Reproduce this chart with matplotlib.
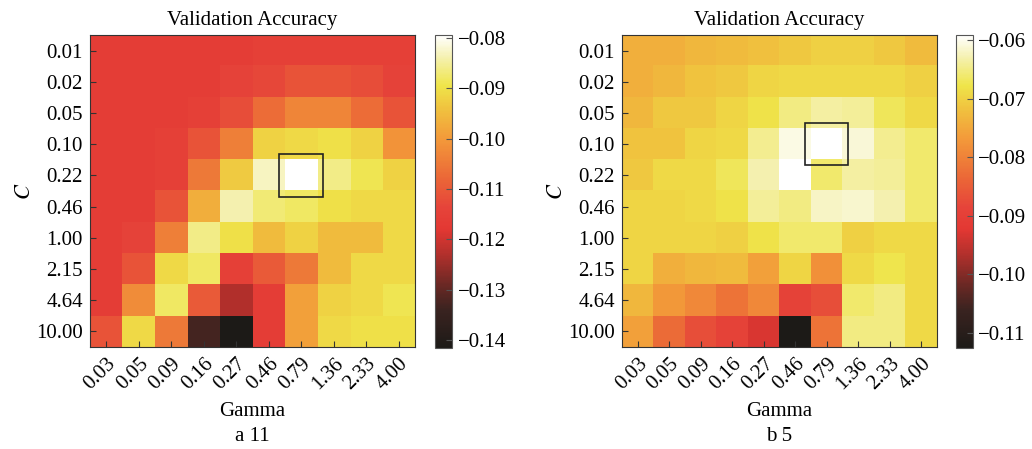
import numpy as np
import matplotlib
matplotlib.use("Agg")
from matplotlib import pyplot as plt
from matplotlib.colors import LinearSegmentedColormap
from matplotlib.patches import Rectangle
from matplotlib.transforms import ScaledTranslation

plt.rcParams['font.family'] = ['Liberation Serif', 'DejaVu Serif']
plt.rcParams['font.size'] = 15
plt.rcParams['mathtext.fontset'] = 'stix'

gamma_labels = ['0.03', '0.05', '0.09', '0.16', '0.27', '0.46', '0.79', '1.36', '2.33', '4.00']
c_labels = ['0.01', '0.02', '0.05', '0.10', '0.22', '0.46', '1.00', '2.15', '4.64', '10.00']

# panel a: rows = C, cols = gamma
acc_a = [
    [-0.116, -0.116, -0.116, -0.116, -0.116, -0.115, -0.115, -0.115, -0.115, -0.115],
    [-0.116, -0.116, -0.116, -0.116, -0.114, -0.113, -0.111, -0.111, -0.112, -0.114],
    [-0.116, -0.116, -0.116, -0.115, -0.112, -0.107, -0.103, -0.103, -0.107, -0.111],
    [-0.116, -0.116, -0.115, -0.111, -0.104, -0.092, -0.091, -0.090, -0.092, -0.101],
    [-0.116, -0.116, -0.115, -0.105, -0.093, -0.083, -0.0794, -0.086, -0.089, -0.092],
    [-0.116, -0.116, -0.111, -0.097, -0.084, -0.087, -0.088, -0.090, -0.091, -0.091],
    [-0.116, -0.114, -0.104, -0.086, -0.090, -0.095, -0.092, -0.095, -0.095, -0.091],
    [-0.116, -0.111, -0.091, -0.088, -0.115, -0.110, -0.105, -0.095, -0.091, -0.091],
    [-0.116, -0.102, -0.088, -0.110, -0.123, -0.116, -0.099, -0.092, -0.091, -0.089],
    [-0.111, -0.091, -0.105, -0.133, -0.1416, -0.116, -0.099, -0.091, -0.090, -0.090],
]
best_a = (6, 4)
ticks_a = [-0.08, -0.09, -0.10, -0.11, -0.12, -0.13, -0.14]

# panel b
acc_b = [
    [-0.074, -0.074, -0.073, -0.0725, -0.072, -0.071, -0.070, -0.070, -0.071, -0.0725],
    [-0.074, -0.073, -0.0715, -0.071, -0.0695, -0.069, -0.069, -0.069, -0.069, -0.070],
    [-0.073, -0.071, -0.071, -0.0695, -0.068, -0.065, -0.0635, -0.064, -0.067, -0.069],
    [-0.0715, -0.0715, -0.0695, -0.069, -0.0645, -0.0605, -0.0591, -0.061, -0.0645, -0.066],
    [-0.071, -0.069, -0.069, -0.067, -0.063, -0.0593, -0.066, -0.0635, -0.064, -0.066],
    [-0.0695, -0.0695, -0.069, -0.068, -0.064, -0.065, -0.062, -0.0615, -0.063, -0.066],
    [-0.0695, -0.0695, -0.0695, -0.070, -0.068, -0.066, -0.066, -0.070, -0.069, -0.069],
    [-0.0695, -0.074, -0.073, -0.0725, -0.076, -0.0695, -0.078, -0.069, -0.0675, -0.069],
    [-0.073, -0.077, -0.079, -0.082, -0.079, -0.089, -0.087, -0.066, -0.065, -0.069],
    [-0.076, -0.083, -0.087, -0.089, -0.093, -0.1126, -0.082, -0.065, -0.065, -0.069],
]
best_b = (6, 3)
ticks_b = [-0.06, -0.07, -0.08, -0.09, -0.10, -0.11]

cmap = LinearSegmentedColormap.from_list('acc', [
    (0.0, '#1c1a17'), (0.12, '#3a2320'), (0.2, '#6a2824'), (0.3, '#b3302c'),
    (0.38, '#e33833'), (0.45, '#e6443a'), (0.54, '#eb6637'), (0.67, '#f39a3a'),
    (0.77, '#f0c43f'), (0.84, '#efe54a'), (0.93, '#f5f1b0'), (1.0, '#ffffff')])

fig = plt.figure(figsize=(10.32, 4.49), dpi=100)

panels = [
    (acc_a, best_a, ticks_a, [0.0872, 0.2272, 0.315, 0.695], [0.4215, 0.2250, 0.0165, 0.697], 'a 11'),
    (acc_b, best_b, ticks_b, [0.6027, 0.2272, 0.3052, 0.695], [0.9264, 0.2250, 0.0160, 0.697], 'b 5'),
]

shift = ScaledTranslation(0.06, -0.03, fig.dpi_scale_trans)

for acc, best, cticks, pos, cpos, cap in panels:
    data = np.array(acc)
    ax = fig.add_axes(pos)
    im = ax.imshow(data, cmap=cmap, aspect='auto', interpolation='nearest',
                   vmin=data.min(), vmax=data.max())
    ax.set_xticks(range(len(gamma_labels)))
    ax.set_xticklabels(gamma_labels, rotation=45, ha='right', rotation_mode='anchor')
    for lab in ax.get_xticklabels():
        lab.set_transform(lab.get_transform() + shift)
    ax.set_yticks(range(len(c_labels)))
    ax.set_yticklabels(c_labels)
    ax.tick_params(direction='in', length=4, color='#333333', pad=5)
    ax.set_xlabel('Gamma', labelpad=6)
    ax.set_ylabel('$C$', labelpad=1, fontsize=16)
    ax.set_title('Validation Accuracy', pad=7, fontsize=15)
    for s in ax.spines.values():
        s.set_color('#333333')
    gx, gy = best
    ax.add_patch(Rectangle((gx - 0.68, gy - 0.68), 1.36, 1.36, fill=False,
                           edgecolor='#222222', linewidth=1.2))

    cax = fig.add_axes(cpos)
    cb = fig.colorbar(im, cax=cax, ticks=cticks)
    cb.ax.tick_params(direction='in', length=4, color='#555555', pad=4)
    cb.ax.set_yticklabels(['\u2212%.2f' % abs(t) for t in cticks])
    cb.outline.set_edgecolor('#555555')

    fig.text(pos[0] + pos[2] / 2, 0.027, cap, ha='center', va='center', fontsize=15)

fig.savefig('out.png', dpi=100)
